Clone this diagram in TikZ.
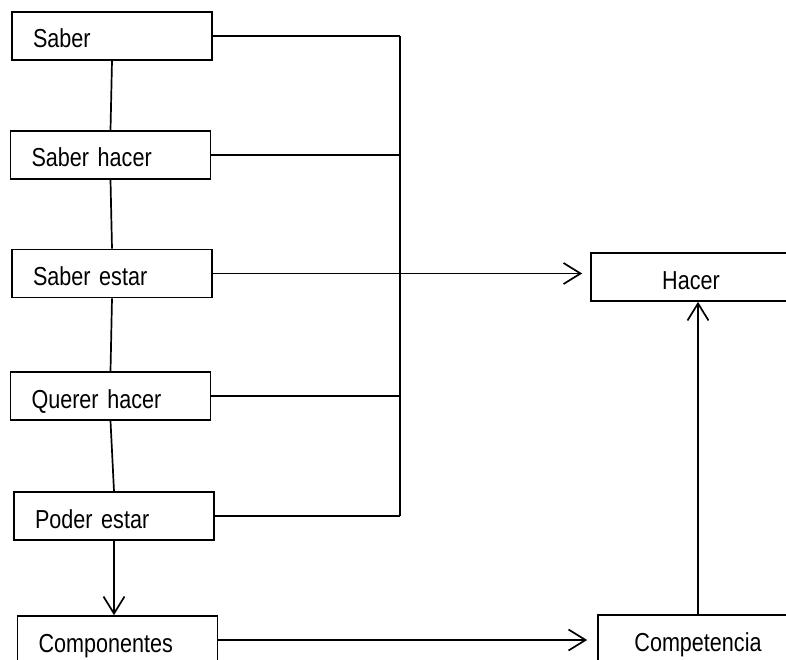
\documentclass[tikz,border=0pt]{standalone}
\usepackage{fontspec}
\setmainfont{Liberation Sans}[FakeStretch=0.83, WordSpace=0.8]
\usetikzlibrary{arrows.meta}
\begin{document}
\begin{tikzpicture}[x=1pt,y=-1pt,
  line width=1.7pt,
  box/.style={draw, minimum width=200pt, minimum height=48pt, inner ysep=0pt,
    text height=24pt, text depth=0pt, font=\fontsize{26}{30}\selectfont},
  leftbox/.style={box, inner xsep=21pt, text width=158pt, align=left},
  centerbox/.style={box, align=center},
  arr/.style={-{Straight Barb[length=17pt,width=21pt,line width=1.7pt]}}
]
\useasboundingbox (0,0) rectangle (786,660);
\clip (0,0) rectangle (786,660);

% components, stacked on the left
\node[leftbox] (saber)       at (112,36)    {Saber};
\node[leftbox] (saberhacer)  at (110.5,155) {Saber hacer};
\node[leftbox] (saberestar)  at (112,273.5) {Saber estar};
\node[leftbox] (querer)      at (110.5,396) {Querer hacer};
\node[leftbox] (poder)       at (114,516)   {Poder estar};
\node[leftbox] (componentes) at (117.5,640) {Componentes};

% results on the right
\node[centerbox] (hacer)       at (691,277) {Hacer};
\node[centerbox] (competencia) at (698,639) {Competencia};

% vertical chain between the components
\draw (saber.south) -- (saberhacer.north);
\draw (saberhacer.south) -- (saberestar.north);
\draw (saberestar.south) -- (querer.north);
\draw (querer.south) -- (poder.north);
\draw[arr] (poder.south) -- (poder.south |- componentes.north);

% collecting bus
\coordinate (bustop) at (400,36);
\coordinate (busbot) at (400,516);
\draw (bustop) -- (busbot);
\draw (saber.east) -- (saber.east -| bustop);
\draw (saberhacer.east) -- (saberhacer.east -| bustop);
\draw (querer.east) -- (querer.east -| bustop);
\draw (poder.east) -- (poder.east -| bustop);
\draw[arr, shorten >=8pt] (saberestar.east) -- (saberestar.east -| hacer.west);

% components lead to competence, which leads to doing
\draw[arr, shorten >=10pt] (componentes.east) -- (componentes.east -| competencia.west);
\draw[arr] (competencia.north) -- (competencia.north |- hacer.south);
\end{tikzpicture}
\end{document}
